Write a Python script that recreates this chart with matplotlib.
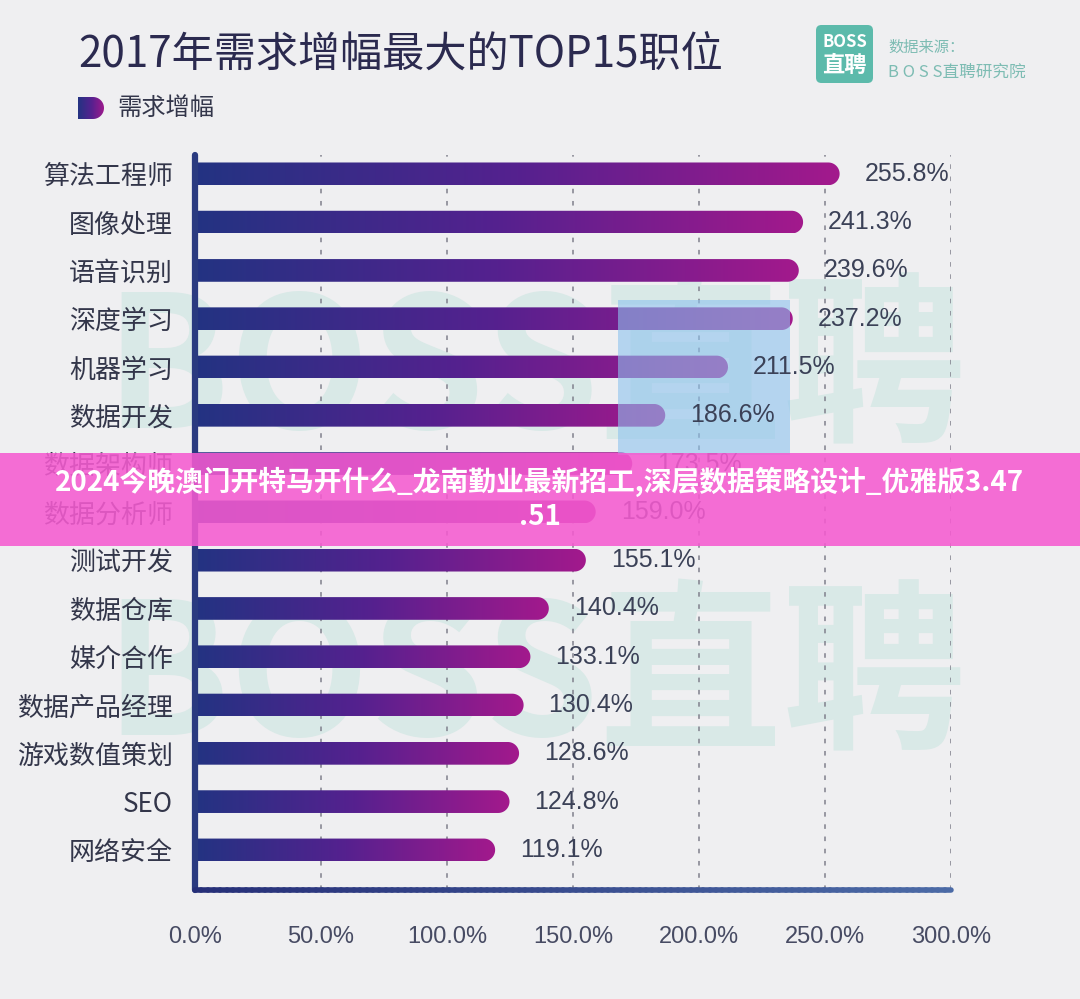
import matplotlib
matplotlib.use('Agg')
import matplotlib.pyplot as plt
import numpy as np
from matplotlib.path import Path
from matplotlib.patches import PathPatch, FancyBboxPatch, Rectangle
from matplotlib.colors import LinearSegmentedColormap
from matplotlib.collections import LineCollection

# ---------------- data ----------------
categories = ['算法工程师', '图像处理', '语音识别', '深度学习', '机器学习', '数据开发',
              '数据架构师', '数据分析师', '测试开发', '数据仓库', '媒介合作',
              '数据产品经理', '游戏数值策划', 'SEO', '网络安全']
values = [255.8, 241.3, 239.6, 237.2, 211.5, 186.6, 173.5, 159.0, 155.1,
          140.4, 133.1, 130.4, 128.6, 124.8, 119.1]
xticks = [0, 50, 100, 150, 200, 250, 300]
xtick_labels = ['0.0%', '50.0%', '100.0%', '150.0%', '200.0%', '250.0%', '300.0%']
title = '2017年需求增幅最大的TOP15职位'
legend_label = '需求增幅'
source_line1 = '数据来源：'
source_line2 = 'B O S S直聘研究院'
logo_top = 'BOSS'
logo_bottom = '直聘'
watermark = 'BOSS直聘'
banner = '2024今晚澳门开特马开什么_龙南勤业最新招工,深层数据策略设计_优雅版3.47\n.51'

CJK = ['Noto Sans CJK SC', 'DejaVu Sans']
NUM = ['Liberation Sans', 'DejaVu Sans']
plt.rcParams['font.family'] = CJK

W, H = 1080, 999
BG = '#efeff1'
fig = plt.figure(figsize=(W / 100, H / 100), dpi=100)
fig.patch.set_facecolor(BG)

def fx(px):
    return px / W

def fy(py):
    return 1 - py / H

# watermark (behind the chart)
for cy in (375, 682):
    fig.text(fx(535), fy(cy), watermark, fontsize=132, fontweight='bold',
             color='#d9e9e7', ha='center', va='center', zorder=-5)

ax_l, ax_r, ax_t, ax_b = 195, 951, 155, 890
ax = fig.add_axes([fx(ax_l), fy(ax_b), (ax_r - ax_l) / W, (ax_b - ax_t) / H])
ax.set_facecolor('none')
n = len(categories)
ylim = (n - 1 + 0.83, -0.39)
xlim = (0, 300)

cmap = LinearSegmentedColormap.from_list('bar', ['#233382', '#55218f', '#a3198c'])
bar_h = 0.47
px_per_x = (ax_r - ax_l) / (xlim[1] - xlim[0])
px_per_y = (ax_b - ax_t) / (ylim[0] - ylim[1])
rx = (bar_h / 2) * px_per_y / px_per_x
grad = np.linspace(0, 1, 256).reshape(1, -1)

for i, v in enumerate(values):
    t = np.linspace(-np.pi / 2, np.pi / 2, 40)
    arc_x = v - rx + rx * np.cos(t)
    arc_y = i + (bar_h / 2) * np.sin(t)
    verts = [(-5, i - bar_h / 2), (v - rx, i - bar_h / 2)]
    verts += list(zip(arc_x, arc_y))
    verts += [(v - rx, i + bar_h / 2), (-5, i + bar_h / 2), (-5, i - bar_h / 2)]
    codes = [Path.MOVETO] + [Path.LINETO] * (len(verts) - 2) + [Path.CLOSEPOLY]
    patch = PathPatch(Path(verts, codes), facecolor='none', edgecolor='none')
    ax.add_patch(patch)
    im = ax.imshow(grad, cmap=cmap, extent=(0, v, i + bar_h / 2, i - bar_h / 2),
                   aspect='auto', interpolation='bicubic', zorder=3)
    im.set_clip_path(patch)
    ax.annotate(f'{v:.1f}%', xy=(v, i), xytext=(18, 0), textcoords='offset points',
                ha='left', va='center', fontsize=18, color='#3b4157',
                family=NUM, zorder=5)

# grid lines
for x in xticks[1:]:
    ax.axvline(x, color='#80808c', lw=1.1, ls=(0, (3, 5)), zorder=1)

ax.set_xlim(*xlim)
ax.set_ylim(*ylim)
for s in ax.spines.values():
    s.set_visible(False)

# translucent blue rectangle (above bars, below value labels)
ax.add_patch(Rectangle((fx(618), fy(455)), 172 / W, 155 / H, transform=fig.transFigure,
                       facecolor='#8ec3ee', edgecolor='none', alpha=0.6, zorder=4,
                       clip_on=False))

# left axis line
ax.plot([0, 0], [ylim[0], ylim[1]], color='#2a3a80', lw=4.5, solid_capstyle='round',
        clip_on=False, zorder=6)
# bottom axis line with gradient
xs = np.linspace(xlim[0], xlim[1], 120)
segs = [[(xs[k], ylim[0]), (xs[k + 1], ylim[0])] for k in range(len(xs) - 1)]
bcmap = LinearSegmentedColormap.from_list('axis', ['#262f78', '#4b6aa6'])
lc = LineCollection(segs, colors=bcmap(np.linspace(0, 1, len(segs))), lw=4,
                    capstyle='round', clip_on=False, zorder=6)
ax.add_collection(lc)

ax.set_xticks(xticks)
ax.set_xticklabels(xtick_labels, family=NUM)
ax.set_yticks(range(n))
ax.set_yticklabels(categories)
ax.tick_params(axis='x', length=0, pad=26, labelsize=17, labelcolor='#474b63')
ax.tick_params(axis='y', length=0, pad=16, labelsize=18.7, labelcolor='#33364a')

# title & legend
fig.text(fx(78), fy(56), title, fontsize=30.3, color='#2b2a4f', ha='left', va='center')
fig.text(fx(117), fy(108), legend_label, fontsize=17.5, color='#33364a', ha='left', va='center')
lax = fig.add_axes([fx(78), fy(119), 26 / W, 22 / H])
lax.set_xlim(0, 1)
lax.set_ylim(0, 1)
lax.axis('off')
lr = (11 / 26)
t = np.linspace(-np.pi / 2, np.pi / 2, 30)
lverts = [(0, 0), (1 - lr, 0)] + list(zip(1 - lr + lr * np.cos(t), 0.5 + 0.5 * np.sin(t))) + [(1 - lr, 1), (0, 1), (0, 0)]
lcodes = [Path.MOVETO] + [Path.LINETO] * (len(lverts) - 2) + [Path.CLOSEPOLY]
lpatch = PathPatch(Path(lverts, lcodes), facecolor='none', edgecolor='none')
lax.add_patch(lpatch)
lim = lax.imshow(grad, cmap=cmap, extent=(0, 1, 0, 1), aspect='auto', interpolation='bicubic')
lim.set_clip_path(lpatch)

# logo and source
logo = FancyBboxPatch((fx(816), fy(83)), 57 / W, 58 / H,
                      boxstyle='round,pad=0,rounding_size=0.005',
                      mutation_aspect=W / H, transform=fig.transFigure,
                      facecolor='#5cbaab', edgecolor='none')
fig.add_artist(logo)
fig.text(fx(844.5), fy(42), logo_top, fontsize=12, fontweight='bold', color='white',
         ha='center', va='center')
fig.text(fx(844.5), fy(66), logo_bottom, fontsize=16, fontweight='bold', color='white',
         ha='center', va='center')
fig.text(fx(888), fy(47), source_line1, fontsize=11, color='#7dbcb3', ha='left', va='center')
fig.text(fx(888), fy(72), source_line2, fontsize=12, color='#7dbcb3', ha='left', va='center')

# banner
fig.add_artist(Rectangle((0, fy(546)), 1, 93 / H, transform=fig.transFigure,
                         facecolor='#f55bd0', edgecolor='none', alpha=0.88, zorder=10))
fig.text(0.5, fy(499), banner, fontsize=20, fontweight='bold', color='white',
         ha='center', va='center', multialignment='center', linespacing=1.25, zorder=11)

fig.savefig('out.png', dpi=100, facecolor=BG)
